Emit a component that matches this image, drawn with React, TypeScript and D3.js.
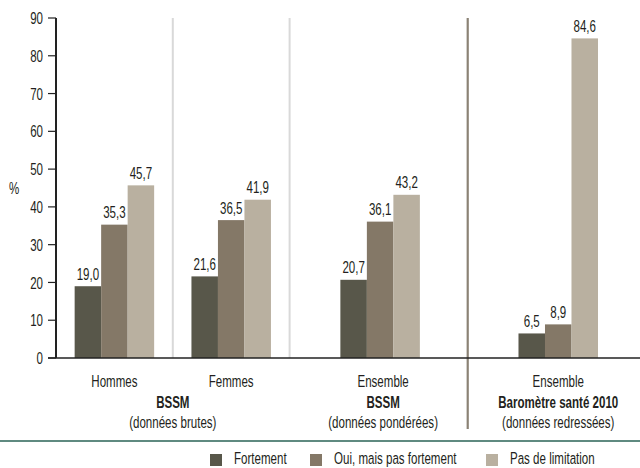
import React from "react";
import * as d3 from "d3";

const categories = ["Hommes", "Femmes", "Ensemble", "Ensemble"];
const seriesNames = ["Fortement", "Oui, mais pas fortement", "Pas de limitation"];
const fortement = [19.0, 21.6, 20.7, 6.5];
const ouiMais = [35.3, 36.5, 36.1, 8.9];
const pasLimitation = [45.7, 41.9, 43.2, 84.6];
const yTicks = [0, 10, 20, 30, 40, 50, 60, 70, 80, 90];

const series = [fortement, ouiMais, pasLimitation];
const colors = ["#58574a", "#847867", "#b9b0a0"];

// layout (slot positions along the x-axis)
const groupSlots = [1, 3, 5.55, 8.6];
const lightSeparators = [2, 4];
const darkSeparator = 7.05;

const W = 640;
const H = 468;
const FONT = "'Liberation Sans', Arial, sans-serif";
const SX = 0.68;
const TXT = "#231f20";

function T({
  x,
  y,
  anchor = "start",
  size = 17,
  bold = false,
  dy,
  children,
}: {
  x: number;
  y: number;
  anchor?: string;
  size?: number;
  bold?: boolean;
  dy?: string;
  children: React.ReactNode;
}) {
  return (
    <text
      transform={`translate(${x},${y}) scale(${SX},1)`}
      textAnchor={anchor}
      fontSize={size}
      fontWeight={bold ? "bold" : "normal"}
      fill={TXT}
      dy={dy}
    >
      {children}
    </text>
  );
}

export default function App() {
  const x0 = 56;
  const x1 = 640;
  const y = d3.scaleLinear().domain([0, 90]).range([358, 18]);
  const slot = d3.scaleLinear().domain([0, 10]).range([x0, x1]);
  const barW = 26.5;
  const inner = d3
    .scaleBand<number>()
    .domain([0, 1, 2])
    .range([-barW * 1.5, barW * 1.5])
    .padding(0);

  const fmt = (v: number) => v.toFixed(1).replace(".", ",");

  return (
    <svg
      width={W}
      height={H}
      style={{ position: "absolute", left: 0, top: 0, background: "#fff" }}
      fontFamily={FONT}
    >
      {/* light separators */}
      {lightSeparators.map((s, i) => (
        <line
          key={"ls" + i}
          x1={slot(s)}
          x2={slot(s)}
          y1={y(90)}
          y2={y(0)}
          stroke="#d9d9d9"
          strokeWidth={2}
        />
      ))}
      {/* dark separator */}
      <line
        x1={slot(darkSeparator)}
        x2={slot(darkSeparator)}
        y1={y(90)}
        y2={429}
        stroke="#8b8275"
        strokeWidth={2.2}
      />

      {/* bars */}
      {categories.map((c, gi) =>
        series.map((s, si) => {
          const cx = slot(groupSlots[gi]);
          const bx = cx + (inner(si) as number);
          const v = s[gi];
          return (
            <g key={c + gi + "-" + si}>
              <rect
                x={bx}
                y={y(v)}
                width={inner.bandwidth()}
                height={y(0) - y(v)}
                fill={colors[si]}
              />
              <T x={bx + inner.bandwidth() / 2} y={y(v) - 6.5} anchor="middle">
                {fmt(v)}
              </T>
            </g>
          );
        })
      )}

      {/* y axis */}
      <line x1={x0} x2={x0} y1={y(90)} y2={y(0)} stroke="#222" strokeWidth={2} />
      {yTicks.map((t) => (
        <g key={"t" + t}>
          <line x1={x0 - 8} x2={x0} y1={y(t)} y2={y(t)} stroke="#222" strokeWidth={1.2} />
          <T x={x0 - 13} y={y(t)} dy="0.36em" anchor="end">
            {t}
          </T>
        </g>
      ))}
      <T x={9} y={188} dy="0.36em">
        %
      </T>

      {/* baseline */}
      <line x1={x0 - 8} x2={x1} y1={y(0)} y2={y(0)} stroke="#222" strokeWidth={1.6} />

      {/* category labels */}
      {categories.map((c, gi) => (
        <T key={"c" + gi} x={slot(groupSlots[gi]) + (gi === 2 ? 3 : 0)} y={387} anchor="middle">
          {c}
        </T>
      ))}
      <T x={slot(2)} y={408} anchor="middle" bold>
        BSSM
      </T>
      <T x={slot(2)} y={428} anchor="middle">
        (données brutes)
      </T>
      <T x={slot(groupSlots[2]) + 3} y={408} anchor="middle" bold>
        BSSM
      </T>
      <T x={slot(groupSlots[2]) + 3} y={428} anchor="middle">
        (données pondérées)
      </T>
      <T x={slot(groupSlots[3])} y={408} anchor="middle" bold>
        Baromètre santé 2010
      </T>
      <T x={slot(groupSlots[3])} y={428} anchor="middle">
        (données redressées)
      </T>

      {/* legend divider */}
      <line x1={0} x2={W} y1={441} y2={441} stroke="#5f8a80" strokeWidth={2} />

      {/* legend */}
      {seriesNames.map((n, i) => {
        const lx = [210, 310, 486][i];
        return (
          <g key={"lg" + i}>
            <rect x={lx} y={454} width={12} height={12} fill={colors[i]} />
            <T x={lx + 24} y={464}>
              {n}
            </T>
          </g>
        );
      })}
    </svg>
  );
}
